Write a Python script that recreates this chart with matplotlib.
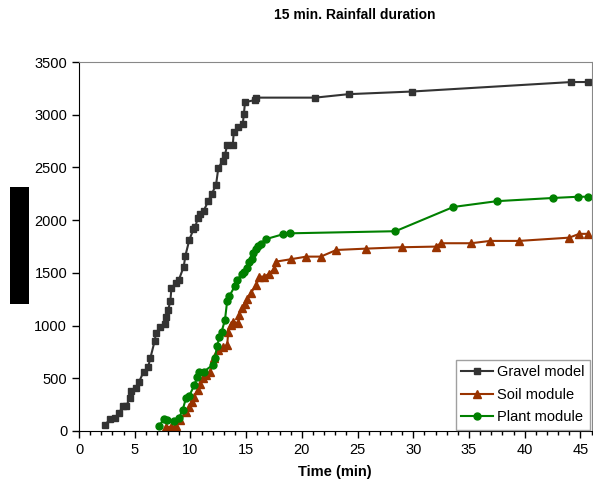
import matplotlib
matplotlib.use("Agg")
import matplotlib.pyplot as plt
from matplotlib.patches import Rectangle

gravel_t = [2.3, 2.8, 3.2, 3.6, 3.96, 4.25, 4.55, 4.7, 5.15, 5.4, 5.8, 6.2, 6.4, 6.8, 6.9, 7.3, 7.7, 7.8, 8.0,
            8.2, 8.3, 8.7, 8.96, 9.4, 9.55, 9.9, 10.27, 10.45, 10.65, 10.87, 11.2, 11.6, 11.9, 12.3, 12.5, 12.9,
            13.1, 13.3, 13.8, 13.9, 14.3, 14.7, 14.8, 14.9, 15.8, 15.85, 21.2, 24.2, 29.9, 44.2, 45.7]
gravel_q = [57, 111, 120, 174, 237, 240, 310, 383, 405, 468, 563, 604, 690, 857, 927, 990, 1015, 1078, 1148,
            1233, 1360, 1401, 1433, 1559, 1663, 1812, 1913, 1939, 2018, 2056, 2090, 2182, 2245, 2334, 2492, 2565,
            2619, 2713, 2713, 2840, 2881, 2913, 3008, 3118, 3140, 3162, 3162, 3195, 3220, 3310, 3310]

soil_t = [7.8, 8.3, 8.7, 9.1, 9.6, 9.9, 10.15, 10.36, 10.65, 10.87, 11.1, 11.4, 11.8, 12.1, 12.5, 12.95, 13.3,
          13.4, 13.6, 13.8, 14.3, 14.4, 14.6, 14.9, 15.1, 15.4, 15.9, 16.2, 16.6, 17.05, 17.5, 17.65, 19.0, 20.4,
          21.7, 23.1, 25.8, 29.0, 32.0, 32.5, 35.2, 36.9, 39.5, 44.0, 44.9, 45.7]
soil_q = [35, 41, 47, 104, 183, 231, 278, 325, 389, 443, 500, 531, 563, 690, 768, 794, 816,
          942, 1006, 1037, 1022, 1101, 1164, 1205, 1249, 1306, 1385, 1464, 1464, 1490, 1534, 1606, 1629, 1654,
          1654, 1717, 1730, 1743, 1749, 1781, 1781, 1803, 1803, 1834, 1870, 1870]

plant_t = [7.2, 7.6, 7.9, 8.57, 8.96, 9.3, 9.6, 9.9, 10.36, 10.6, 10.8, 11.2, 12.0, 12.2, 12.4, 12.6, 12.8,
           13.1, 13.3, 13.5, 14.0, 14.2, 14.6, 14.8, 15.05, 15.3, 15.5, 15.6, 15.9, 16.1, 16.3, 16.75, 18.3, 18.9,
           28.4, 33.6, 37.5, 42.5, 44.8, 45.7]
plant_q = [50, 111, 104, 98, 120, 199, 310, 335, 436, 509, 563, 563, 626, 690, 809, 889, 942,
           1053, 1233, 1281, 1376, 1433, 1487, 1512, 1544, 1606, 1629, 1686, 1724, 1755, 1774, 1819, 1866, 1875,
           1895, 2125, 2180, 2210, 2222, 2222]

x_ticks = [0, 5, 10, 15, 20, 25, 30, 35, 40, 45]
y_ticks = [0, 500, 1000, 1500, 2000, 2500, 3000, 3500]

plt.rcParams['font.family'] = ['Liberation Sans', 'DejaVu Sans']

fig = plt.figure(figsize=(5.93, 4.93), dpi=100)
ax = fig.add_axes([79/593, 1-431/493, (591.5-79)/593, (431-62)/493])

ax.plot(gravel_t, gravel_q, color='#333333', marker='s', markersize=5, lw=1.5, label='Gravel model')
ax.plot(soil_t, soil_q, color='#993300', marker='^', markersize=6, lw=1.5, label='Soil module')
ax.plot(plant_t, plant_q, color='#008000', marker='o', markersize=5, lw=1.5, label='Plant module')

ax.set_xlim(0, 46)
ax.set_ylim(0, 3500)
ax.set_xticks(x_ticks)
ax.set_xticks(range(0, 47), minor=True)
ax.set_yticks(y_ticks)
ax.tick_params(axis='both', labelsize=10.5, direction='out', length=5, width=1, colors='black')
ax.tick_params(axis='x', which='minor', direction='out', length=3, width=1)
for s in ['top', 'right']:
    ax.spines[s].set_color('#888888')
for s in ['left', 'bottom']:
    ax.spines[s].set_color('black')

ax.set_xlabel('Time (min)', fontsize=10.5, fontweight='bold', labelpad=6)

leg = ax.legend(loc='lower right', fontsize=10.5, frameon=True, fancybox=False, borderaxespad=0.1,
                handlelength=2.2, handletextpad=0.3, labelspacing=0.6, borderpad=0.35)
leg.get_frame().set_edgecolor('#888888')
leg.get_frame().set_linewidth(1)

fig.text(355/593, 1-15/493, '15 min. Rainfall duration', ha='center', va='center', fontsize=10, fontweight='bold')
fig.patches.append(Rectangle((10/593, 1-304/493), 19/593, 117/493, transform=fig.transFigure,
                             facecolor='black', edgecolor='none'))

fig.savefig('out.png', dpi=100)
